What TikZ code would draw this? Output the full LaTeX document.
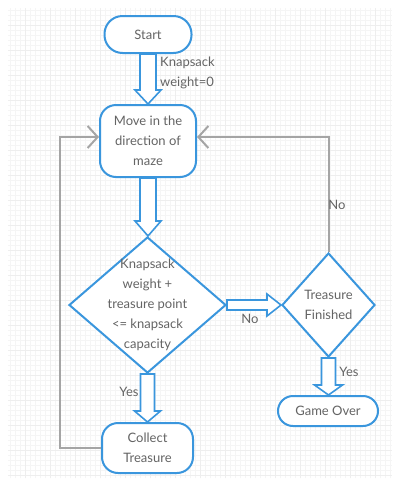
\documentclass[tikz,border=0pt]{standalone}
\usepackage{fontspec}
\setmainfont{Lato}
\usetikzlibrary{shapes.geometric,arrows.meta,calc}
\definecolor{fblue}{RGB}{58,150,221}
\definecolor{ftext}{RGB}{100,100,100}
\definecolor{fline}{RGB}{165,165,165}
\newcommand\blockdown[5]{\draw[barrow] let \p1=(#1), \p2=(#2) in
 (\x1-#3pt,\y1) -- (\x1-#3pt,\y2+#5pt) -- (\x1-#4pt,\y2+#5pt) -- (\x1,\y2) -- (\x1+#4pt,\y2+#5pt) -- (\x1+#3pt,\y2+#5pt) -- (\x1+#3pt,\y1) -- cycle;}
\newcommand\blockright[5]{\draw[barrow] let \p1=(#1), \p2=(#2) in
 (\x1,\y1+#3pt) -- (\x2-#5pt,\y1+#3pt) -- (\x2-#5pt,\y1+#4pt) -- (\x2,\y1) -- (\x2-#5pt,\y1-#4pt) -- (\x2-#5pt,\y1-#3pt) -- (\x1,\y1-#3pt) -- cycle;}
\tikzset{
  every node/.style={font=\fontsize{13}{20}\selectfont, text=ftext},
  term/.style={draw=fblue, line width=2pt, fill=white, rounded corners=#1, inner sep=0pt, align=center},
  dia/.style={draw=fblue, line width=2pt, fill=white, diamond, inner sep=0pt},
  txt/.style={align=center, inner sep=0pt},
  barrow/.style={draw=fblue, line width=1.6pt, fill=white, line join=miter},
  conn/.style={draw=fline, line width=2pt, -{Straight Barb[length=10pt,width=22pt,line width=2pt]}},
}
\begin{document}
\begin{tikzpicture}[x=1pt,y=-1pt]
\useasboundingbox (0,0) rectangle (398,483);
\fill[white] (0,0) rectangle (398,483);
\draw[gray!8, line width=0.4pt, step=5pt] (8,8) grid (392,478);
\draw[gray!13, line width=0.5pt, step=25pt] (8,8) grid (392,478);

\node[term=18pt, minimum width=87pt, minimum height=37pt] (start) at (148,34.5) {Start};
\node[term=16pt, minimum width=96pt, minimum height=72pt] (move) at (148,141) {Move in the\\direction of\\maze};
\node[dia, minimum width=157pt, minimum height=136pt] (d1) at (147.5,305) {};
\node[txt] (d1t) at (147.5,305) {Knapsack\\weight +\\treasure point\\<= knapsack\\capacity};
\node[dia, minimum width=93pt, minimum height=104pt] (d2) at (328.5,305) {};
\node[txt] (d2t) at (328.5,305) {Treasure\\Finished};
\node[term=15pt, minimum width=100pt, minimum height=30pt] (over) at (328,411) {Game Over};
\node[term=16pt, minimum width=91pt, minimum height=50pt] (collect) at (147.5,448) {Collect\\Treasure};

\blockdown{start.south}{start.south |- move.north}{8}{13}{14}
\blockdown{move.south}{move.south |- d1.north}{8}{13}{15}
\blockdown{d1.south}{d1.south |- collect.north}{7}{13}{11}
\blockdown{d2.south}{d2.south |- over.north}{7}{14}{10}
\blockright{d1.east}{d2.west}{5}{11}{14}

\coordinate (lc) at (60,448);
\coordinate (lt) at (60,137);
\coordinate (rt) at (328.5,137);
\draw[conn] (collect.west) -- (lc) -- (lt) -- (lt -| move.west);
\draw[conn] (d2.north) -- (rt) -- (rt -| move.east);

\node[txt, anchor=west, align=left] (kw) at (160,73) {Knapsack\\weight=0};
\node[txt] (no1) at (337,205) {No};
\node[txt] (no2) at (250,319) {No};
\node[txt] (yes1) at (349,372) {Yes};
\node[txt] (yes2) at (129,392) {Yes};
\end{tikzpicture}
\end{document}
